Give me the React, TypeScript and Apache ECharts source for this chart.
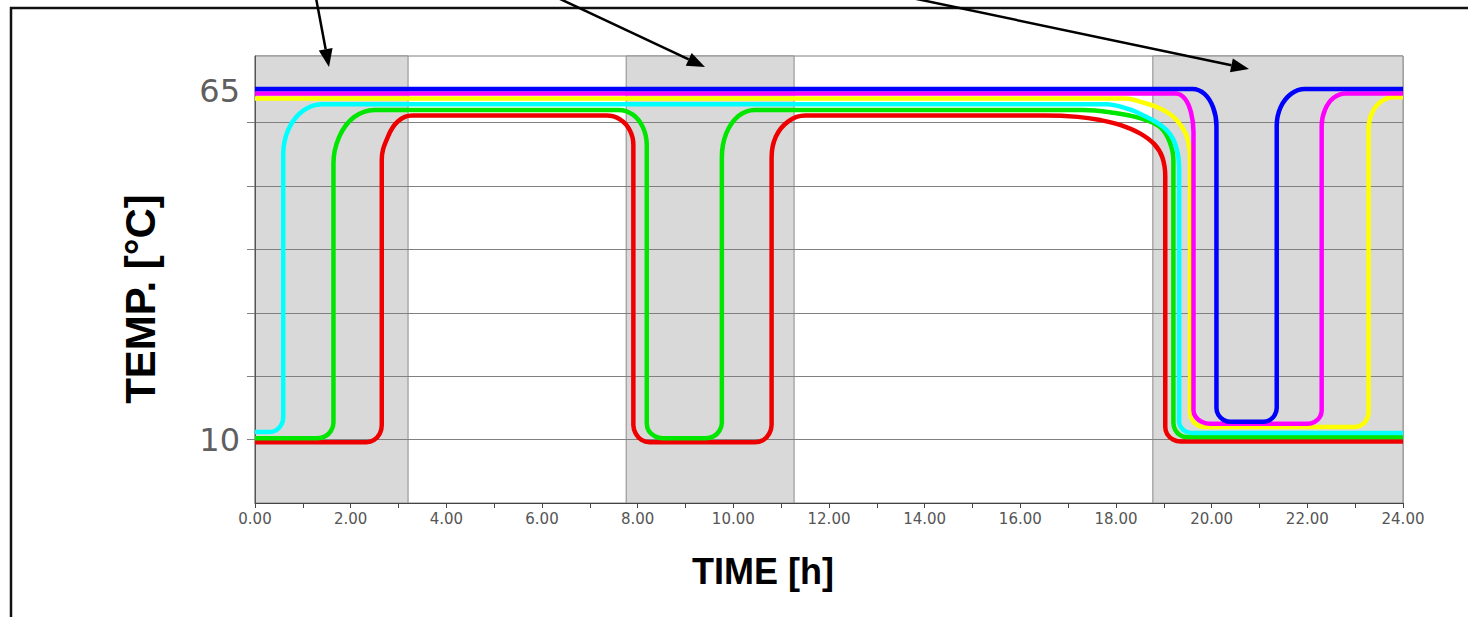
import React, { useEffect, useRef } from "react";
import * as echarts from "echarts";

// ---- data (hours, °C) ----
const shadedPeriods: [number, number][] = [
  [0, 3.2],
  [7.76, 11.27],
  [18.77, 24],
];
const yLabelValues = [10, 65];
const yTickValues = [10, 20, 30, 40, 50, 60];

const redData = [
  [0, 9.6], [2.33, 9.6], [2.49, 9.96], [2.61, 10.95], [2.65, 12.3],
  [2.65, 54.1], [2.78, 57.8], [2.99, 60.2], [3.28, 61.1],
  [7.35, 61.1], [7.63, 60.5], [7.835, 58.8], [7.91, 56.5],
  [7.91, 12.3], [7.96, 10.95], [8.08, 9.96], [8.25, 9.6],
  [10.45, 9.6], [10.63, 9.96], [10.75, 10.95], [10.8, 12.3],
  [10.8, 54.5], [10.89, 57.8], [11.15, 60.2], [11.5, 61.1],
  [16.5, 61.1], [17.2, 60.9], [17.67, 60.4], [18.1, 59.6], [18.5, 58.3], [18.8, 56.6],
  [18.97, 54.5], [19.03, 51.5],
  [19.03, 12.0], [19.07, 10.85], [19.19, 10.0], [19.35, 9.7], [24, 9.7],
];
const greenData = [
  [0, 10.2], [1.3, 10.2], [1.47, 10.52], [1.59, 11.4], [1.64, 12.6],
  [1.64, 53.5], [1.76, 57.75], [2.07, 60.86], [2.5, 62.0],
  [7.6, 62.0], [7.9, 61.26], [8.11, 59.25], [8.19, 56.5],
  [8.19, 12.6], [8.23, 11.4], [8.36, 10.52], [8.52, 10.2],
  [9.42, 10.2], [9.59, 10.52], [9.71, 11.4], [9.76, 12.6],
  [9.76, 54.5], [9.85, 58.25], [10.1, 61.0], [10.45, 62.0],
  [17.3, 62.0], [17.9, 61.6], [18.5, 60.7], [18.92, 59.3], [19.12, 57.0], [19.2, 54.0],
  [19.2, 12.6], [19.24, 11.5], [19.34, 10.7], [19.47, 10.4], [24, 10.4],
];
const cyanData = [
  [0, 11.2], [0.3, 11.2], [0.45, 11.5], [0.55, 12.35], [0.59, 13.5],
  [0.59, 55.0], [0.7, 58.95], [1.0, 61.84], [1.4, 62.9],
  [17.8, 62.9], [18.15, 62.4], [18.5, 61.4], [19.06, 58.8], [19.28, 55.5], [19.32, 52.5],
  [19.32, 12.8], [19.36, 11.93], [19.46, 11.28], [19.6, 11.05], [24, 11.05],
];
const yellowData = [
  [0, 63.8], [18.2, 63.8], [18.5, 63.3], [18.9, 62.3], [19.2, 60.9], [19.42, 58.8],
  [19.51, 57.0], [19.55, 54.0],
  [19.55, 14.3], [19.59, 13.15], [19.7, 12.31], [19.85, 12.0],
  [23.0, 12.0], [23.14, 12.31], [23.24, 13.15], [23.28, 14.3],
  [23.28, 59.0], [23.35, 61.5], [23.54, 63.33], [23.8, 64.0], [24, 64.0],
];
const magentaData = [
  [0, 64.6], [19.25, 64.6], [19.44, 63.78], [19.57, 61.55], [19.62, 58.5],
  [19.62, 14.6], [19.67, 13.55], [19.8, 12.78], [19.97, 12.5],
  [22.0, 12.5], [22.15, 12.78], [22.26, 13.55], [22.3, 14.6],
  [22.3, 59.5], [22.37, 62.05], [22.55, 63.92], [22.8, 64.6], [24, 64.6],
];
const blueData = [
  [0, 65.3], [19.6, 65.3], [19.85, 64.52], [20.03, 62.4], [20.1, 59.5],
  [20.1, 15.0], [20.14, 13.9], [20.25, 13.1], [20.4, 12.8],
  [21.08, 12.8], [21.22, 13.1], [21.32, 13.9], [21.36, 15.0],
  [21.36, 59.5], [21.44, 62.4], [21.66, 64.52], [21.95, 65.3], [24, 65.3],
];

const seriesDefs = [
  { name: "red", color: "#ee0000", data: redData },
  { name: "green", color: "#00e600", data: greenData },
  { name: "cyan", color: "#00ffff", data: cyanData },
  { name: "yellow", color: "#ffff00", data: yellowData },
  { name: "magenta", color: "#ff00ff", data: magentaData },
  { name: "blue", color: "#0000ff", data: blueData },
];

// arrows: [startX, startY, tipX, tipY] (decoration positions)
const arrows = [
  [316, -2, 329, 67],
  [558, -2, 705, 67],
  [912, -2, 1249, 69],
];

function arrowGraphics() {
  const els: any[] = [];
  arrows.forEach(([x1, y1, x2, y2]) => {
    const dx = x2 - x1, dy = y2 - y1;
    const len = Math.sqrt(dx * dx + dy * dy);
    const ux = dx / len, uy = dy / len;
    const hl = 18, hw = 7;
    const bx = x2 - ux * hl, by = y2 - uy * hl;
    els.push({
      type: "line",
      shape: { x1, y1, x2: bx, y2: by },
      style: { stroke: "#000", lineWidth: 2.5 },
      z: 100,
    });
    els.push({
      type: "polygon",
      shape: {
        points: [
          [x2, y2],
          [bx - uy * hw, by + ux * hw],
          [bx + uy * hw, by - ux * hw],
        ],
      },
      style: { fill: "#000" },
      z: 100,
    });
  });
  return els;
}

const GRID = "#808080";

export default function App() {
  const ref = useRef<HTMLDivElement>(null);
  useEffect(() => {
    document.body.style.margin = "0";
    const chart = echarts.init(ref.current!, null, { renderer: "svg" });
    const option: any = {
      animation: false,
      backgroundColor: "#ffffff",
      grid: {
        left: 255,
        top: 56,
        right: 65,
        bottom: 114,
        show: true,
        borderColor: GRID,
        borderWidth: 1,
        backgroundColor: "#ffffff",
      },
      xAxis: {
        type: "value",
        min: 0,
        max: 24,
        interval: 2,
        z: 3,
        axisLine: { show: true, lineStyle: { color: "#444", width: 1 } },
        axisTick: { show: true, length: 5, lineStyle: { color: "#444" } },
        minorTick: { show: true, splitNumber: 2, length: 5, lineStyle: { color: "#444" } },
        splitLine: { show: false },
        axisLabel: {
          formatter: (v: number) => v.toFixed(2),
          fontFamily: "DejaVu Sans",
          fontSize: 15,
          color: "#555",
          margin: 8,
        },
      },
      yAxis: [
        {
          type: "value",
          min: 0,
          max: 70.5,
          interval: 10,
          z: 3,
          axisLine: { show: true, lineStyle: { color: "#555" } },
          axisTick: {
            show: true,
            length: 8,
            customValues: yTickValues,
            lineStyle: { color: GRID },
          },
          splitLine: {
            show: true,
            lineStyle: {
              color: [GRID, GRID, GRID, GRID, GRID, GRID, GRID, "rgba(0,0,0,0)"],
              width: 1,
            },
          },
          axisLabel: { show: false },
        },
        {
          type: "value",
          min: 0,
          max: 70.5,
          interval: 5,
          position: "left",
          axisLine: { show: false },
          axisTick: { show: false },
          splitLine: { show: false },
          axisLabel: {
            formatter: (v: number) => (yLabelValues.includes(v) ? String(v) : ""),
            fontFamily: "DejaVu Sans",
            fontSize: 32,
            color: "#5f5f5f",
            margin: 15,
          },
        },
      ],
      series: [
        {
          type: "line",
          data: [],
          z: 1,
          silent: true,
          markArea: {
            silent: true,
            itemStyle: { color: "#d9d9d9", borderColor: "#8a8a8a", borderWidth: 1 },
            data: shadedPeriods.map(([a, b]) => [{ xAxis: a }, { xAxis: b }]),
          },
        },
        ...seriesDefs.map((s) => ({
          type: "line",
          name: s.name,
          data: s.data,
          z: 5,
          smooth: 0.4,
          symbol: "none",
          clip: true,
          lineStyle: { color: s.color, width: 4.5 },
        })),
      ],
      graphic: [
        {
          type: "rect",
          shape: { x: 11, y: 8, width: 1500, height: 700 },
          style: { fill: "none", stroke: "#111", lineWidth: 2.5 },
          z: 100,
        },
        ...arrowGraphics(),
        {
          type: "text",
          x: 140,
          y: 299,
          rotation: Math.PI / 2,
          style: {
            text: "TEMP. [°C]",
            fontFamily: "Liberation Sans, Arial, sans-serif",
            fontWeight: "bold",
            fontSize: 42,
            fill: "#000",
            textAlign: "center",
            textVerticalAlign: "middle",
          },
          z: 100,
        },
        {
          type: "text",
          x: 763,
          y: 571,
          style: {
            text: "TIME [h]",
            fontFamily: "Liberation Sans, Arial, sans-serif",
            fontWeight: "bold",
            fontSize: 36,
            fill: "#000",
            textAlign: "center",
            textVerticalAlign: "middle",
          },
          z: 100,
        },
      ],
    };
    chart.setOption(option);
    return () => chart.dispose();
  }, []);
  return <div ref={ref} style={{ width: 1468, height: 617 }} />;
}
